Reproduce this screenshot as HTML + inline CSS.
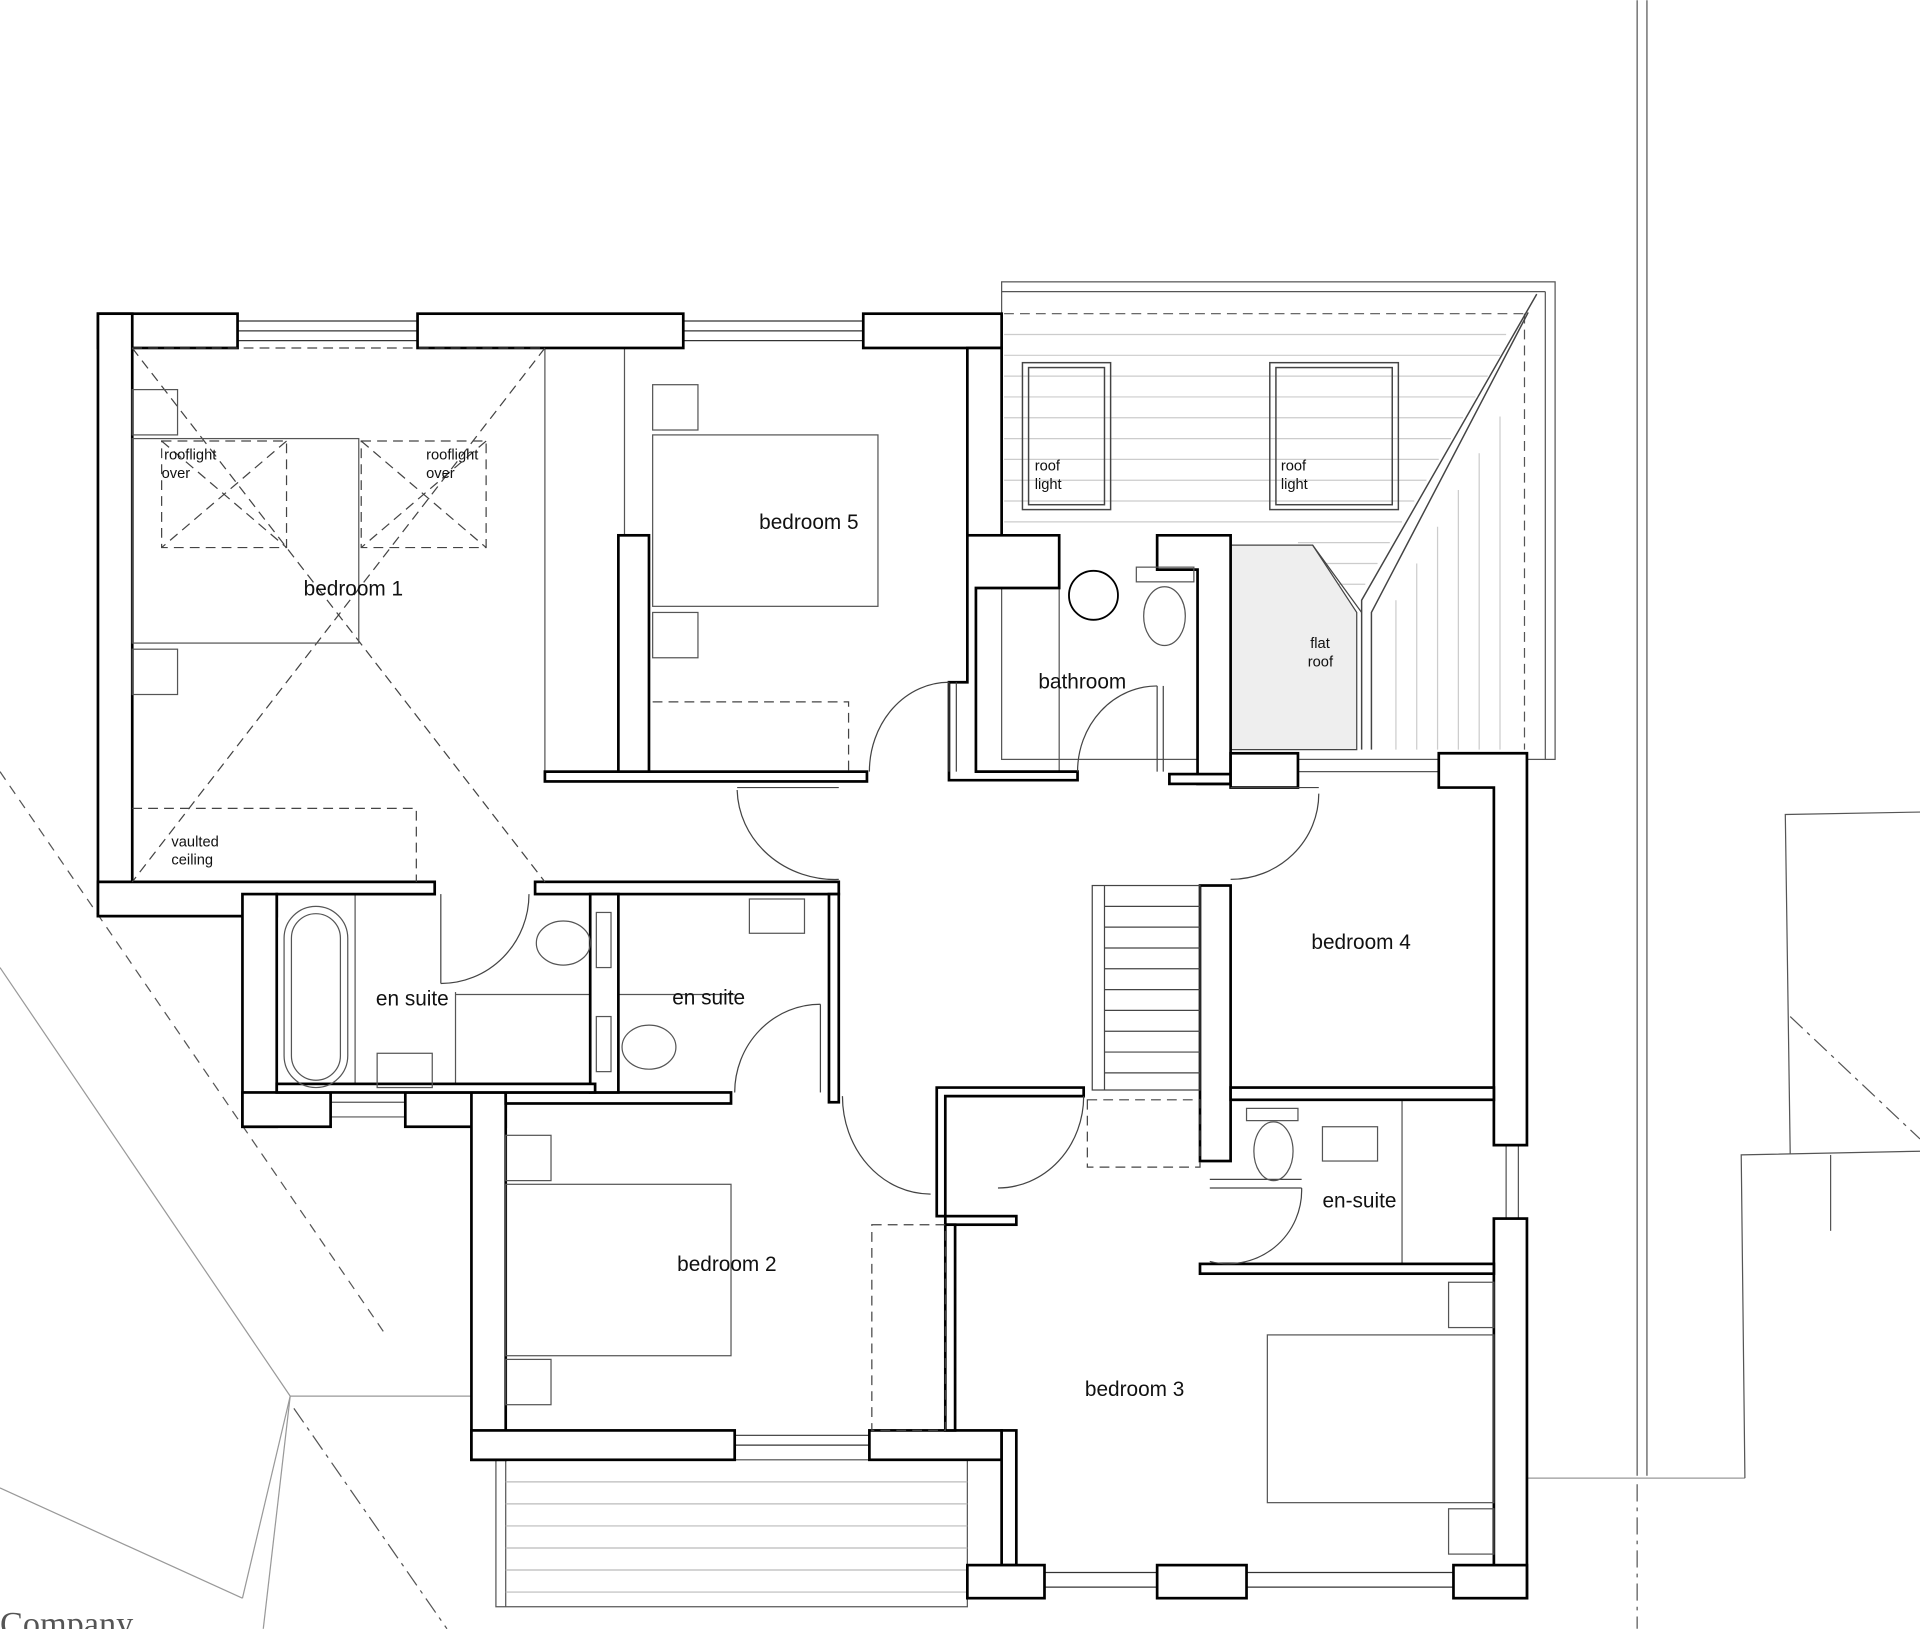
<!DOCTYPE html>
<html><head><meta charset="utf-8"><style>
html,body{margin:0;padding:0;background:#fff;}
svg{display:block}
text{font-family:"Liberation Sans",sans-serif;fill:#111}
</style></head><body>
<svg width="1920" height="1629" viewBox="0 0 1568 1330" xmlns="http://www.w3.org/2000/svg">
<rect width="1568" height="1330" fill="#fff"/>
<g stroke="#999" fill="none" stroke-width="1">
<line x1="0" y1="790" x2="237" y2="1140"/>
<line x1="237" y1="1140" x2="198" y2="1305"/>
<line x1="237" y1="1140" x2="385" y2="1140"/>
<line x1="237" y1="1140" x2="215" y2="1330"/>
<line x1="0" y1="1215" x2="198" y2="1305"/>
<line x1="1247" y1="1207" x2="1425" y2="1207"/>
</g>
<g stroke="#555" fill="none" stroke-width="1">
<line x1="0" y1="630" x2="315" y2="1090" stroke-dasharray="8,6"/>
<line x1="240" y1="1150" x2="365" y2="1330" stroke-dasharray="14,5,3,5"/>
<line x1="1337" y1="0" x2="1337" y2="1205"/>
<line x1="1345" y1="0" x2="1345" y2="1205"/>
<line x1="1337" y1="1212" x2="1337" y2="1330" stroke-dasharray="14,5,3,5"/>
<polyline points="1568,663 1458,665 1462,942"/>
<polyline points="1568,940 1422,943 1425,1207"/>
<line x1="1495" y1="943" x2="1495" y2="1005"/>
<line x1="1462" y1="830" x2="1568" y2="930" stroke-dasharray="14,5,3,5"/>
</g>
<text x="0" y="1335" style="font-family:'Liberation Serif',serif;fill:#555" font-size="28">Company</text>

<g stroke="#555" fill="none" stroke-width="1">
<rect x="818" y="230" width="452" height="390"/>
<line x1="818" y1="238" x2="1262" y2="238"/>
<line x1="1262" y1="238" x2="1262" y2="620"/>
<line x1="820" y1="256" x2="1245" y2="256" stroke-dasharray="8,5"/>
<line x1="1245" y1="256" x2="1245" y2="612" stroke-dasharray="8,5"/>
</g>
<g stroke="#ccc" stroke-width="1">
<line x1="820" y1="273" x2="1230" y2="273"/><line x1="820" y1="290" x2="1225" y2="290"/>
<line x1="820" y1="307" x2="1215" y2="307"/><line x1="820" y1="324" x2="1205" y2="324"/>
<line x1="820" y1="341" x2="1195" y2="341"/><line x1="820" y1="358" x2="1185" y2="358"/>
<line x1="820" y1="375" x2="1175" y2="375"/><line x1="820" y1="392" x2="1165" y2="392"/>
<line x1="820" y1="409" x2="1155" y2="409"/><line x1="820" y1="426" x2="1145" y2="426"/>
<line x1="1060" y1="443" x2="1135" y2="443"/><line x1="1080" y1="460" x2="1125" y2="460"/>
<line x1="1090" y1="477" x2="1115" y2="477"/>
<line x1="1140" y1="490" x2="1140" y2="612"/><line x1="1157" y1="460" x2="1157" y2="612"/>
<line x1="1174" y1="430" x2="1174" y2="612"/><line x1="1191" y1="400" x2="1191" y2="612"/>
<line x1="1208" y1="370" x2="1208" y2="612"/><line x1="1225" y1="340" x2="1225" y2="612"/>
</g>
<g stroke="#444" fill="none" stroke-width="1.2">
<polyline points="1255,240 1112,490 1112,612"/>
<polyline points="1248,255 1120,500 1120,612"/>
<rect x="835" y="296" width="72" height="120"/><rect x="840" y="300" width="62" height="112"/>
<rect x="1037" y="296" width="105" height="120"/><rect x="1042" y="300" width="95" height="112"/>
</g>
<polygon points="1005,445 1072,445 1108,500 1108,612 1005,612" fill="#eee" stroke="#444" stroke-width="1"/>
<line x1="1072" y1="445" x2="1112" y2="500" stroke="#444"/>
<text x="845" y="384" font-size="12">roof</text><text x="845" y="399" font-size="12">light</text>
<text x="1046" y="384" font-size="12">roof</text><text x="1046" y="399" font-size="12">light</text>
<text x="1070" y="529" font-size="12">flat</text><text x="1068" y="544" font-size="12">roof</text>

<g stroke="#555" fill="none" stroke-width="1">
<line x1="445" y1="284" x2="445" y2="630"/>
<line x1="865" y1="437" x2="865" y2="630"/>
<line x1="510" y1="284" x2="510" y2="437"/>
<line x1="818" y1="437" x2="818" y2="480"/>
<line x1="290" y1="730" x2="290" y2="892"/><line x1="372" y1="810" x2="372" y2="892"/>
<line x1="372" y1="812" x2="482" y2="812"/><line x1="505" y1="812" x2="600" y2="812"/>
<line x1="1145" y1="898" x2="1145" y2="1032"/>
<line x1="1060" y1="630" x2="1175" y2="630"/>
<line x1="1230" y1="935" x2="1230" y2="995"/><line x1="1240" y1="935" x2="1240" y2="995"/>
<line x1="270" y1="900" x2="331" y2="900"/><line x1="270" y1="912" x2="331" y2="912"/>
</g>
<g stroke="#333" stroke-width="1">
<line x1="194" y1="262" x2="341" y2="262"/><line x1="194" y1="270" x2="341" y2="270"/><line x1="194" y1="278" x2="341" y2="278"/>
<line x1="558" y1="262" x2="705" y2="262"/><line x1="558" y1="270" x2="705" y2="270"/><line x1="558" y1="278" x2="705" y2="278"/>
<line x1="600" y1="1172" x2="710" y2="1172"/><line x1="600" y1="1180" x2="710" y2="1180"/>
<line x1="853" y1="1284" x2="945" y2="1284"/><line x1="853" y1="1296" x2="945" y2="1296"/>
<line x1="1018" y1="1284" x2="1187" y2="1284"/><line x1="1018" y1="1296" x2="1187" y2="1296"/>
</g>
<g stroke="#555" stroke-width="1" fill="none">
<rect x="405" y="1192" width="385" height="120"/>
<line x1="413" y1="1192" x2="413" y2="1312"/>
<line x1="413" y1="1210" x2="790" y2="1210" stroke="#bbb"/><line x1="413" y1="1228" x2="790" y2="1228" stroke="#bbb"/>
<line x1="413" y1="1246" x2="790" y2="1246" stroke="#bbb"/><line x1="413" y1="1264" x2="790" y2="1264" stroke="#bbb"/>
<line x1="413" y1="1282" x2="790" y2="1282" stroke="#bbb"/><line x1="413" y1="1300" x2="790" y2="1300" stroke="#bbb"/>
</g>

<g fill="#fff" stroke="#000" stroke-width="2.2">
<rect x="80" y="256" width="114" height="28"/>
<rect x="341" y="256" width="217" height="28"/>
<rect x="705" y="256" width="113" height="28"/>
<rect x="80" y="256" width="28" height="492"/>
<polygon points="80,720 355,720 355,730 226,730 226,748 80,748"/>
<rect x="198" y="730" width="28" height="190"/>
<rect x="198" y="892" width="72" height="28"/>
<rect x="331" y="892" width="82" height="28"/>
<rect x="385" y="892" width="28" height="300"/>
<rect x="413" y="892" width="184" height="9"/>
<rect x="385" y="1168" width="215" height="24"/>
<rect x="710" y="1168" width="108" height="24"/>
<rect x="505" y="437" width="25" height="200"/>
<rect x="445" y="630" width="263" height="8"/>
<rect x="790" y="284" width="28" height="153"/>
<polygon points="790,437 865,437 865,480 797,480 797,630 880,630 880,637 775,637 775,557 790,557"/>
<polygon points="945,437 1005,437 1005,640 978,640 978,465 945,465"/>
<rect x="955" y="632" width="50" height="8"/>
<rect x="1005" y="615" width="55" height="28"/>
<polygon points="1175,615 1247,615 1247,935 1220,935 1220,643 1175,643"/>
<rect x="980" y="723" width="25" height="225"/>
<rect x="1005" y="888" width="215" height="10"/>
<rect x="1220" y="995" width="27" height="310"/>
<rect x="980" y="1032" width="240" height="8"/>
<rect x="437" y="720" width="248" height="10"/>
<rect x="677" y="730" width="8" height="170"/>
<rect x="482" y="730" width="23" height="162"/>
<rect x="226" y="885" width="260" height="7"/>
<polygon points="772,895 885,895 885,888 765,888 765,993 772,993"/>
<rect x="772" y="993" width="58" height="7"/>
<rect x="772" y="1000" width="8" height="168"/>
<rect x="818" y="1168" width="12" height="110"/>
<rect x="790" y="1278" width="63" height="27"/>
<rect x="945" y="1278" width="73" height="27"/>
<rect x="1187" y="1278" width="60" height="27"/>
</g>
<g stroke="#444" fill="none" stroke-width="1">
<rect x="892" y="723" width="88" height="167"/><line x1="902" y1="723" x2="902" y2="890"/>
<line x1="902" y1="740" x2="980" y2="740"/><line x1="902" y1="757" x2="980" y2="757"/><line x1="902" y1="774" x2="980" y2="774"/>
<line x1="902" y1="791" x2="980" y2="791"/><line x1="902" y1="808" x2="980" y2="808"/><line x1="902" y1="825" x2="980" y2="825"/>
<line x1="902" y1="842" x2="980" y2="842"/><line x1="902" y1="859" x2="980" y2="859"/><line x1="902" y1="876" x2="980" y2="876"/>
</g>
<g stroke="#444" fill="none" stroke-width="1">
<path d="M710,630 A65,73 0 0 1 775,557"/><line x1="775" y1="557" x2="775" y2="630"/><line x1="781" y1="557" x2="781" y2="630"/>
<path d="M880,630 A65,70 0 0 1 945,560"/><line x1="945" y1="560" x2="945" y2="630"/><line x1="950" y1="560" x2="950" y2="630"/>
<path d="M602,645 A80,75 0 0 0 685,718"/><line x1="602" y1="643" x2="685" y2="643"/>
<path d="M1077,648 A72,70 0 0 1 1005,718"/><line x1="1005" y1="643" x2="1077" y2="643"/>
<path d="M360,803 A72,73 0 0 0 432,730"/><line x1="360" y1="730" x2="360" y2="803"/>
<path d="M600,892 A70,72 0 0 1 670,820"/><line x1="670" y1="820" x2="670" y2="892"/>
<path d="M688,895 A72,80 0 0 0 760,975"/>
<path d="M885,895 A70,75 0 0 1 815,970"/>
<path d="M1063,970 A60,60 0 0 1 988,1030"/><line x1="988" y1="970" x2="1063" y2="970"/><line x1="988" y1="963" x2="1063" y2="963"/>
</g>
<g stroke="#444" fill="none" stroke-width="1" stroke-dasharray="8,5">
<line x1="108" y1="284" x2="445" y2="284"/>
<line x1="108" y1="284" x2="445" y2="720"/>
<line x1="445" y1="284" x2="108" y2="720"/>
<rect x="132" y="360" width="102" height="87"/><line x1="132" y1="360" x2="234" y2="447"/><line x1="234" y1="360" x2="132" y2="447"/>
<rect x="295" y="360" width="102" height="87"/><line x1="295" y1="360" x2="397" y2="447"/><line x1="397" y1="360" x2="295" y2="447"/>
<polyline points="108,660 340,660 340,720"/>
<polyline points="533,573 693,573 693,630"/>
<rect x="712" y="1000" width="60" height="168"/>
<rect x="888" y="898" width="92" height="55"/>
</g>
<g stroke="#555" fill="none" stroke-width="1">
<rect x="108" y="358" width="185" height="167"/><rect x="108" y="318" width="37" height="37"/><rect x="108" y="530" width="37" height="37"/>
<rect x="533" y="355" width="184" height="140"/><rect x="533" y="314" width="37" height="37"/><rect x="533" y="500" width="37" height="37"/>
<rect x="413" y="967" width="184" height="140"/><rect x="413" y="927" width="37" height="37"/><rect x="413" y="1110" width="37" height="37"/>
<rect x="1035" y="1090" width="185" height="137"/><rect x="1183" y="1047" width="37" height="37"/><rect x="1183" y="1232" width="37" height="37"/>
<rect x="232" y="740" width="52" height="148" rx="26"/><rect x="238" y="746" width="40" height="136" rx="20"/>
<rect x="308" y="860" width="45" height="28"/><rect x="612" y="734" width="45" height="28"/><rect x="1080" y="920" width="45" height="28"/>
<ellipse cx="460" cy="770" rx="22" ry="18"/><rect x="487" y="745" width="12" height="45"/>
<ellipse cx="530" cy="855" rx="22" ry="18"/><rect x="487" y="830" width="12" height="45"/>
<ellipse cx="1040" cy="940" rx="16" ry="24"/><rect x="1018" y="905" width="42" height="10"/>
<ellipse cx="951" cy="503" rx="17" ry="24"/><rect x="928" y="463" width="47" height="12"/>
<circle cx="893" cy="486" r="20" stroke="#000" stroke-width="1.5"/>
</g>
<g font-size="17">
<text x="248" y="486">bedroom 1</text>
<text x="620" y="432">bedroom 5</text>
<text x="848" y="562">bathroom</text>
<text x="1071" y="775">bedroom 4</text>
<text x="307" y="821">en suite</text>
<text x="549" y="820">en suite</text>
<text x="1080" y="986">en-suite</text>
<text x="553" y="1038">bedroom 2</text>
<text x="886" y="1140">bedroom 3</text>
</g>
<g font-size="12">
<text x="134" y="375">rooflight</text><text x="132" y="390">over</text>
<text x="348" y="375">rooflight</text><text x="348" y="390">over</text>
<text x="140" y="691">vaulted</text><text x="140" y="706">ceiling</text>
</g>
</svg>
</body></html>
